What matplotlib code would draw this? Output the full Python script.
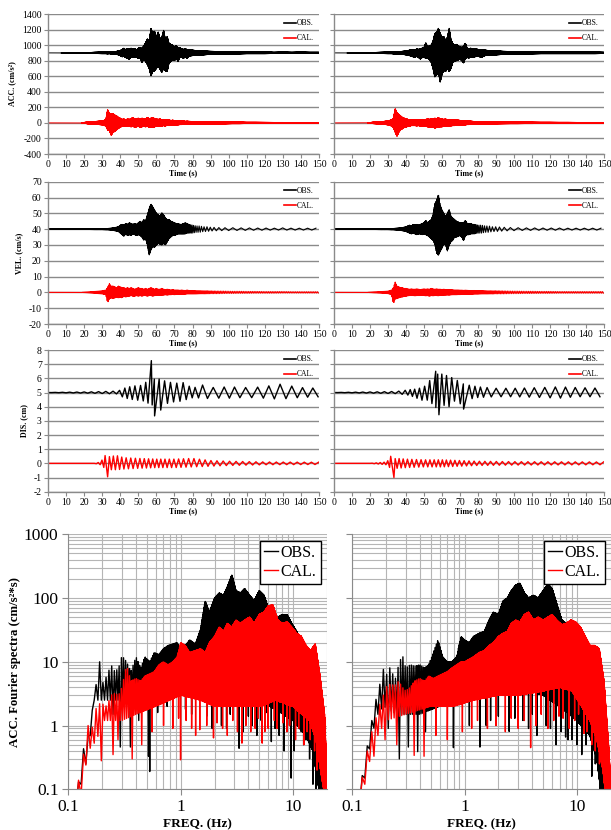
import numpy as np
import matplotlib
matplotlib.use("Agg")
import matplotlib.pyplot as plt
from matplotlib.lines import Line2D

plt.rcParams['font.family'] = ['Liberation Serif', 'DejaVu Serif']
plt.rcParams['axes.unicode_minus'] = False

# ---------------- time histories ----------------
# envelope knots (s) shared by the ACC and VEL records: upper / lower excursion about the baseline
env_t = [0, 10, 18, 22, 26, 30, 32, 33, 34, 35, 36, 37, 38, 39, 40, 41, 42, 43, 44, 45, 46, 47, 48, 49,
         50, 51, 52, 53, 54, 55, 56, 57, 58, 59, 60, 61, 62, 63, 64, 65, 66, 67, 68, 69, 70, 71, 72, 73,
         74, 75, 76, 77, 78, 80, 82, 84, 86, 88, 90, 94, 98, 102, 106, 110, 115, 120, 125, 130, 135, 140, 145, 150]

acc_l_obs_up = [0, 1, 2, 4, 8, 10, 10, 12, 10, 14, 12, 16, 20, 25, 30, 45, 60, 40, 55, 50, 60, 45, 55, 40,
                60, 70, 55, 90, 130, 180, 150, 316, 250, 280, 200, 270, 180, 200, 290, 170, 210, 120, 110, 100, 80, 90, 60, 70,
                50, 45, 55, 40, 45, 35, 30, 28, 25, 22, 20, 18, 15, 15, 12, 10, 10, 12, 8, 10, 8, 10, 8, 8]
acc_l_obs_dn = [0, 1, 2, 4, 8, 10, 10, 12, 10, 14, 12, 16, 20, 25, 35, 50, 45, 60, 70, 80, 55, 60, 50, 55,
                70, 60, 125, 80, 110, 150, 200, 295, 240, 230, 200, 170, 210, 250, 200, 230, 240, 130, 110, 90, 100, 70, 110, 60,
                55, 70, 50, 70, 40, 35, 30, 28, 25, 22, 20, 18, 15, 15, 12, 10, 10, 10, 8, 8, 8, 8, 8, 8]
acc_l_cal_up = [0, 0, 0, 12, 18, 25, 40, 170, 120, 110, 120, 100, 90, 70, 60, 45, 50, 40, 50, 45, 55, 70, 50, 55,
                60, 50, 60, 55, 50, 70, 55, 60, 70, 55, 50, 45, 50, 40, 45, 40, 35, 40, 30, 35, 30, 25, 28, 25,
                22, 25, 20, 22, 20, 18, 16, 15, 15, 14, 13, 12, 12, 10, 10, 8, 8, 7, 6, 6, 5, 5, 5, 5]
acc_l_cal_dn = [0, 0, 0, 12, 18, 25, 40, 90, 100, 160, 120, 110, 90, 70, 55, 45, 40, 45, 40, 45, 50, 45, 55, 50,
                45, 55, 50, 45, 50, 45, 55, 50, 60, 50, 45, 40, 45, 40, 35, 40, 30, 35, 30, 30, 28, 25, 25, 22,
                22, 20, 20, 20, 18, 18, 16, 15, 15, 14, 13, 12, 12, 10, 10, 8, 8, 7, 6, 6, 5, 5, 5, 5]

acc_r_obs_up = [0, 1, 3, 5, 8, 10, 10, 12, 12, 14, 15, 18, 20, 22, 25, 30, 35, 40, 45, 40, 50, 45, 55, 60,
                70, 130, 80, 90, 100, 150, 250, 260, 316, 250, 200, 210, 160, 200, 316, 170, 120, 100, 110, 90, 80, 70, 90, 124,
                60, 55, 60, 50, 55, 45, 40, 35, 30, 28, 25, 20, 18, 15, 12, 12, 10, 10, 12, 10, 10, 10, 10, 8]
acc_r_obs_dn = [0, 1, 3, 5, 8, 10, 10, 12, 12, 14, 15, 18, 20, 22, 25, 30, 35, 45, 50, 55, 45, 60, 80, 60,
                55, 70, 65, 90, 120, 200, 310, 280, 250, 376, 280, 220, 240, 200, 240, 200, 120, 110, 100, 90, 80, 100, 130, 70,
                60, 65, 55, 60, 50, 45, 56, 35, 30, 28, 25, 20, 18, 15, 12, 12, 10, 10, 10, 10, 10, 10, 10, 8]
acc_r_cal_up = [0, 0, 0, 10, 15, 25, 40, 60, 182, 130, 110, 90, 70, 60, 55, 45, 40, 35, 40, 35, 40, 35, 40, 45,
                40, 45, 50, 45, 55, 50, 60, 55, 65, 55, 50, 45, 50, 40, 45, 40, 38, 40, 35, 35, 32, 30, 28, 25,
                25, 22, 22, 20, 18, 15, 15, 14, 13, 12, 12, 11, 10, 10, 9, 9, 8, 8, 7, 7, 6, 6, 6, 6]
acc_r_cal_dn = [0, 0, 0, 10, 15, 25, 40, 60, 120, 172, 120, 90, 75, 60, 55, 45, 40, 35, 35, 35, 38, 35, 40, 40,
                42, 45, 50, 55, 60, 55, 65, 60, 55, 50, 50, 45, 45, 40, 40, 38, 35, 35, 32, 30, 30, 28, 25, 25,
                22, 22, 20, 20, 18, 15, 15, 14, 13, 12, 12, 11, 10, 10, 9, 9, 8, 8, 7, 7, 6, 6, 6, 6]

vel_l_obs_up = [0.1, 0.1, 0.15, 0.2, 0.3, 0.3, 0.4, 0.4, 0.5, 0.6, 0.8, 1.0, 1.2, 1.5, 2.5, 3, 2.5, 3.5, 3, 4, 3.5, 3, 3.5, 3,
                4, 5, 4, 6, 5, 9, 13, 15.9, 14, 12, 10, 9, 8, 10.4, 9, 7, 6, 6, 5, 4.5, 4, 3.5, 3.5, 3,
                3, 3.5, 4, 3.5, 3, 2.5, 2, 2, 1.5, 1.5, 1.2, 1.0, 0.9, 0.9, 0.8, 0.8, 0.7, 0.7, 0.6, 0.8, 0.6, 0.6, 0.6, 0.6]
vel_l_obs_dn = [0.1, 0.1, 0.15, 0.2, 0.3, 0.3, 0.4, 0.4, 0.5, 0.6, 0.8, 1.0, 1.2, 1.5, 2.5, 3.5, 4.5, 3, 4, 3.5, 4, 3, 3.5, 4,
                3.5, 4, 5, 7, 6, 10, 16.4, 13, 11, 11.5, 10, 9, 9.5, 10, 9, 10, 8, 6, 5, 4, 4, 3.5, 3, 3,
                3, 3, 3, 2.5, 2.5, 2.5, 2, 2, 1.5, 1.5, 1.2, 1.0, 0.9, 0.9, 0.8, 0.8, 0.7, 0.7, 0.6, 0.6, 0.6, 0.6, 0.6, 0.6]
vel_l_cal_up = [0, 0, 0, 0.3, 0.6, 1.0, 1.5, 3.5, 5.5, 4, 4, 3.5, 3, 4, 3.5, 3, 3, 2.5, 3, 2.5, 3, 2.5, 2, 2.5,
                3, 2.5, 2.5, 2, 2.5, 2, 2.5, 3, 2.5, 2, 2.5, 2, 2, 2.5, 2, 1.8, 2, 1.8, 1.5, 1.8, 1.5, 1.5, 1.5, 1.3,
                1.5, 1.3, 1.2, 1.5, 1.2, 1.2, 1.0, 1.0, 1.0, 1.0, 0.9, 0.8, 0.8, 0.7, 0.7, 0.6, 0.6, 0.5, 0.5, 0.5, 0.4, 0.4, 0.4, 0.4]
vel_l_cal_dn = [0, 0, 0, 0.3, 0.6, 1.0, 1.5, 6.5, 4, 3.5, 4, 3.5, 3, 3.5, 3, 3.5, 2.5, 3, 2.5, 2.5, 2, 2.5, 2.5, 2,
                2.5, 2, 2.5, 2, 2, 2.5, 2, 2, 2.5, 2, 2, 1.8, 2, 1.8, 1.8, 1.5, 1.8, 1.5, 1.5, 1.3, 1.5, 1.3, 1.3, 1.2,
                1.2, 1.2, 1.2, 1.0, 1.0, 1.0, 1.0, 0.9, 0.9, 0.9, 0.8, 0.8, 0.7, 0.7, 0.6, 0.6, 0.5, 0.5, 0.5, 0.4, 0.4, 0.4, 0.4, 0.4]

vel_r_obs_up = [0.1, 0.1, 0.15, 0.2, 0.3, 0.3, 0.4, 0.4, 0.5, 0.6, 0.7, 0.8, 1.0, 1.2, 1.5, 2, 2.5, 2, 3, 2.5, 3, 2.5, 3, 3.5,
                4, 5.5, 4, 5, 6, 9, 16, 18, 21.9, 15, 12, 10, 8, 10, 12.5, 8, 7, 6, 5, 4.5, 4, 4, 4, 5.5,
                3.5, 3.5, 3.5, 3, 3, 2.5, 2.5, 2, 2, 1.5, 1.5, 1.2, 1.0, 0.9, 0.8, 0.8, 0.7, 0.7, 0.7, 0.6, 0.6, 0.6, 0.6, 0.6]
vel_r_obs_dn = [0.1, 0.1, 0.15, 0.2, 0.3, 0.3, 0.4, 0.4, 0.5, 0.6, 0.7, 0.8, 1.0, 1.2, 1.5, 2, 2.5, 3, 2.5, 3, 3.5, 3, 3, 3.5,
                3, 3.5, 4, 5, 6, 7, 9.4, 15, 16.5, 14, 12, 9, 10, 13.8, 10, 8, 7, 5, 5, 4.5, 4, 5, 7.3, 4,
                3.5, 3.5, 3, 3, 3, 2.5, 2.5, 2, 2, 1.5, 1.5, 1.2, 1.0, 0.9, 0.8, 0.8, 0.7, 0.7, 0.7, 0.6, 0.6, 0.6, 0.6, 0.6]
vel_r_cal_up = [0, 0, 0, 0.3, 0.5, 0.8, 1.5, 3, 6.5, 4, 3.5, 3, 3, 2.5, 2.5, 2.2, 2, 2.2, 2, 2, 2.2, 2, 1.8, 2,
                2.2, 2, 2.2, 2, 2.5, 2.2, 2, 2.2, 2, 2, 1.8, 2, 1.8, 1.8, 1.7, 1.8, 1.6, 1.5, 1.5, 1.5, 1.4, 1.4, 1.3, 1.4,
                1.3, 1.2, 1.2, 1.2, 1.2, 1.1, 1.1, 1.0, 1.0, 1.0, 1.0, 0.9, 0.8, 0.8, 0.7, 0.7, 0.6, 0.6, 0.5, 0.5, 0.5, 0.5, 0.5, 0.5]
vel_r_cal_dn = [0, 0, 0, 0.3, 0.5, 0.8, 1.5, 7.2, 4, 4, 3.5, 3, 3, 2.5, 2.5, 2.2, 2, 2, 2, 2.2, 2, 2, 2, 1.8,
                2, 2.2, 2, 2.5, 2, 2.2, 2, 2, 2.2, 1.8, 2, 1.8, 1.8, 1.7, 1.8, 1.6, 1.5, 1.5, 1.5, 1.4, 1.4, 1.3, 1.3, 1.3,
                1.2, 1.2, 1.2, 1.2, 1.1, 1.1, 1.0, 1.0, 1.0, 1.0, 0.9, 0.9, 0.8, 0.8, 0.7, 0.7, 0.6, 0.6, 0.5, 0.5, 0.5, 0.5, 0.5, 0.5]

# displacement envelopes plus a few marked extremes (time, value)
dis_l_obs_t = [0, 25, 32, 38, 41, 43, 47, 50, 53, 54.5, 58, 60, 63, 65, 70, 75, 78, 82, 86, 90, 100, 110, 120, 125, 130, 135, 140, 150]
dis_l_obs_up = [0, 0.05, 0.08, 0.1, 0.2, 0.35, 0.45, 0.5, 0.5, 0.8, 0.9, 1.0, 0.9, 0.8, 0.65, 0.7, 0.45, 0.35, 0.55, 0.35, 0.4, 0.35, 0.4, 0.55, 0.6, 0.45, 0.35, 0.3]
dis_l_obs_dn = [0, 0.05, 0.08, 0.1, 0.3, 0.4, 0.5, 0.55, 0.6, 0.7, 0.9, 1.0, 0.9, 0.8, 0.65, 0.6, 0.4, 0.35, 0.45, 0.4, 0.4, 0.35, 0.4, 0.45, 0.45, 0.4, 0.35, 0.3]
dis_l_obs_pins = [(57.2, 7.25), (59.0, 3.35), (62.4, 3.76)]
dis_l_cal_t = [0, 26, 29, 31, 35, 38, 42, 50, 60, 70, 80, 90, 100, 120, 150]
dis_l_cal_up = [0, 0, 0.1, 0.4, 0.5, 0.55, 0.4, 0.35, 0.3, 0.3, 0.35, 0.2, 0.15, 0.1, 0.08]
dis_l_cal_dn = [0, 0, 0.1, 0.3, 0.45, 0.45, 0.4, 0.35, 0.3, 0.3, 0.25, 0.2, 0.15, 0.1, 0.08]
dis_l_cal_pins = [(31.6, 0.55), (33.0, -0.95)]

dis_r_obs_t = [0, 25, 35, 42, 46, 50, 53, 55, 58, 61, 64, 67, 70, 73, 76, 80, 90, 100, 115, 125, 135, 150]
dis_r_obs_up = [0, 0.05, 0.08, 0.2, 0.25, 0.4, 0.8, 1.3, 1.3, 1.3, 1.1, 1.0, 0.7, 0.55, 0.5, 0.4, 0.3, 0.3, 0.35, 0.4, 0.35, 0.3]
dis_r_obs_dn = [0, 0.05, 0.08, 0.2, 0.4, 0.6, 0.5, 0.9, 1.2, 0.9, 1.0, 0.6, 0.8, 0.7, 0.45, 0.35, 0.3, 0.3, 0.35, 0.4, 0.3, 0.3]
dis_r_obs_pins = [(56.5, 6.5), (58.3, 3.43), (72.0, 3.83)]
dis_r_cal_t = [0, 20, 25, 29, 31, 35, 40, 50, 60, 80, 100, 150]
dis_r_cal_up = [0, 0, 0.05, 0.1, 0.3, 0.35, 0.3, 0.25, 0.25, 0.15, 0.12, 0.1]
dis_r_cal_dn = [0, 0, 0.05, 0.1, 0.3, 0.35, 0.3, 0.25, 0.25, 0.15, 0.12, 0.1]
dis_r_cal_pins = [(31.5, 0.5), (33.3, -1.0)]

# spacing between successive peaks and troughs (s)
acc_hp_t, acc_hp = [0, 150], [0.04, 0.04]
vel_obs_hp_t, vel_obs_hp = [0, 75, 90, 100, 150], [0.12, 0.12, 1.0, 2.3, 2.3]
vel_cal_hp_t, vel_cal_hp = [0, 80, 100, 150], [0.25, 0.25, 0.5, 0.5]
dis_l_obs_hp_t = [0, 35, 42, 50, 56, 62, 70, 80, 88, 100, 110, 120, 130, 140, 150]
dis_l_obs_hp = [2.0, 2.0, 1.3, 1.6, 1.1, 1.5, 1.8, 1.6, 3.2, 2.8, 3.4, 3.0, 3.3, 2.8, 3.0]
dis_r_obs_hp_t = [0, 35, 42, 50, 56, 62, 70, 80, 88, 100, 115, 130, 150]
dis_r_obs_hp = [2.0, 2.0, 1.2, 1.5, 1.0, 1.4, 1.7, 1.5, 2.8, 2.5, 3.0, 2.7, 2.8]
dis_cal_hp_t, dis_cal_hp = [0, 30, 45, 60, 80, 100, 150], [1.5, 1.0, 1.3, 1.1, 1.5, 1.8, 2.0]

# ---------------- Fourier spectra ----------------
spec_f = [0.11, 0.12, 0.13, 0.14, 0.15, 0.16, 0.17, 0.18, 0.19, 0.2, 0.22, 0.24, 0.26, 0.28, 0.3, 0.33, 0.36, 0.4, 0.44, 0.48,
          0.53, 0.58, 0.64, 0.7, 0.77, 0.85, 0.93, 1.0, 1.1, 1.2, 1.35, 1.5, 1.65, 1.8, 2.0, 2.2, 2.4, 2.6, 2.85, 3.1,
          3.4, 3.7, 4.1, 4.5, 5.0, 5.5, 6.0, 6.6, 7.3, 8.0, 8.8, 9.7, 10.7, 11.8, 13.0, 14.3, 15.7, 17.3, 19.0, 20.0]
spl_obs_hi = [0.05, 0.1, 0.22, 0.6, 0.7, 1.1, 4.2, 4.5, 10, 4.5, 6, 9, 7, 8, 12.5, 10, 7, 12, 8, 12,
              10, 14, 13, 16, 18, 19, 20, 15, 18, 22, 19, 32, 90, 60, 100, 120, 110, 150, 230, 130,
              120, 140, 110, 90, 130, 110, 70, 60, 50, 55, 55, 40, 30, 20, 15, 10, 8, 2, 0.3, 0.1]
spl_cal_hi = [0.05, 0.15, 0.12, 0.6, 1.0, 0.8, 1.3, 2.2, 2.2, 2.2, 2.0, 3.0, 3.2, 3.0, 4, 9, 5, 5.5, 5, 6,
              6.5, 7, 9, 10, 9, 10, 12, 20, 18, 14, 15, 16, 14, 20, 25, 35, 30, 40, 35, 45,
              40, 45, 50, 40, 55, 60, 75, 78, 45, 40, 42, 35, 28, 25, 18, 15, 19, 6, 1.5, 0.15]
spr_obs_hi = [0.05, 0.12, 0.3, 0.6, 1.2, 2.2, 3.5, 5, 7.6, 6, 8.5, 5, 9, 13, 8, 9, 8.5, 9, 8, 9,
              14, 22, 12, 10, 10, 12, 25, 22, 20, 25, 28, 30, 45, 60, 55, 90, 100, 130, 160, 170,
              120, 100, 110, 100, 130, 165, 140, 80, 45, 40, 40, 40, 30, 25, 15, 12, 8, 0.5, 0.08, 0.05]
spr_cal_hi = [0.05, 0.12, 0.25, 0.5, 0.8, 1.2, 1.6, 2.5, 3, 4, 4.5, 4.2, 5, 4, 3.5, 4, 5, 5.5, 5, 6,
              5.5, 6, 6.5, 7, 8, 9, 10, 10, 11, 12, 14, 15, 18, 20, 25, 28, 30, 40, 45, 42,
              55, 60, 45, 50, 45, 50, 55, 45, 38, 40, 45, 42, 35, 25, 18, 18, 16, 5, 0.5, 0.1]

spl_obs_lo_f = [0.11, 0.13, 0.15, 0.17, 0.19, 0.22, 0.3, 0.5, 0.7, 1.0, 1.5, 1.7, 2.0, 3.0, 5.0, 7.0, 10, 13, 15, 17, 20]
spl_obs_lo = [0.03, 0.12, 0.35, 2.5, 2.5, 2.5, 2.5, 2.5, 3.5, 4, 5, 8, 4, 3, 2.5, 1.8, 1.2, 0.7, 0.4, 0.1, 0.02]
spl_cal_lo_f = [0.11, 0.13, 0.15, 0.18, 0.2, 0.25, 0.3, 0.4, 0.6, 0.8, 1.0, 1.5, 2, 3, 5, 7, 10, 12, 14, 16, 18, 20]
spl_cal_lo = [0.03, 0.08, 0.4, 0.6, 1.2, 1.2, 1.2, 1.5, 2, 2.5, 3, 2.5, 2, 2, 2, 2.5, 2, 1.5, 1.2, 0.6, 0.15, 0.05]
spr_obs_lo_f = [0.11, 0.13, 0.15, 0.17, 0.19, 0.25, 0.4, 0.6, 1.0, 1.5, 2, 3, 5, 7, 10, 13, 15, 17, 20]
spr_obs_lo = [0.03, 0.15, 0.7, 1.5, 2, 1.5, 1.5, 2, 3, 3, 4, 4, 3, 2, 1.2, 0.7, 0.3, 0.05, 0.02]
spr_cal_lo_f = [0.11, 0.13, 0.15, 0.17, 0.2, 0.3, 0.5, 0.8, 1.2, 2, 3, 5, 7, 9, 11, 13, 15, 17, 18.5, 20]
spr_cal_lo = [0.03, 0.12, 0.4, 0.7, 1.2, 1.5, 2, 2, 2.5, 3, 3, 3.5, 4, 3.5, 2, 1.2, 0.6, 0.2, 0.05, 0.02]

# deep notches (Hz, amplitude)
spl_obs_dips = [(0.25, 1.5), (0.288, 0.46), (0.353, 0.46), (0.42, 1.2), (0.515, 0.33), (0.53, 0.19), (0.62, 1.6),
                (0.75, 2.0), (1.1, 1.8), (1.25, 1.5), (1.7, 1.4), (1.9, 0.9), (2.3, 1.0), (2.55, 0.9), (2.75, 1.5),
                (3.3, 0.44), (3.6, 0.8), (4.0, 1.4), (4.3, 1.0), (4.75, 0.7), (5.2, 1.2), (5.8, 1.6), (6.4, 0.56),
                (6.9, 0.9), (7.5, 0.7), (8.3, 0.4), (8.9, 1.0), (9.6, 0.15), (10.2, 0.4), (11.8, 0.8), (12.4, 0.5),
                (13.0, 0.6), (14.0, 0.3), (15.0, 0.12), (16.0, 0.1)]
spl_cal_dips = [(0.191, 0.28), (0.25, 0.35), (0.28, 0.6), (0.365, 0.3), (0.45, 0.5), (0.55, 0.8), (0.7, 1.0),
                (0.85, 0.9), (0.95, 1.3), (1.0, 0.29), (1.12, 1.2), (1.25, 0.9), (1.35, 0.7), (1.48, 0.86),
                (1.7, 1.0), (1.95, 0.64), (2.1, 1.1), (2.35, 0.9), (2.6, 0.7), (2.9, 1.2), (3.2, 0.8), (3.5, 0.53),
                (3.8, 1.0), (4.2, 0.8), (4.6, 0.9), (4.9, 1.3), (5.3, 0.53), (5.6, 0.8), (6.0, 0.9), (6.8, 1.2),
                (7.2, 0.9), (8.1, 1.1), (8.8, 0.8), (9.3, 1.0), (10.5, 0.6), (11.2, 0.9), (12.5, 0.5), (13.3, 0.8),
                (14.2, 0.6), (15.5, 0.4), (16.3, 0.2)]
spr_obs_dips = [(0.21, 0.9), (0.256, 0.3), (0.308, 0.46), (0.378, 0.39), (0.45, 0.8), (0.79, 0.45), (1.1, 1.0),
                (1.37, 0.46), (1.55, 1.0), (1.7, 1.2), (2.0, 1.4), (2.49, 0.81), (2.8, 1.3), (3.3, 1.2), (3.7, 0.9),
                (4.0, 1.5), (4.4, 0.7), (5.3, 1.0), (5.8, 0.9), (6.5, 0.5), (7.2, 0.8), (7.9, 0.66), (8.3, 0.6),
                (9.0, 0.6), (10.0, 0.5), (11.0, 0.35), (12.0, 0.5), (13.5, 0.16), (14.5, 0.25), (16.0, 0.08)]
spr_cal_dips = [(0.15, 0.33), (0.19, 0.6), (0.25, 0.5), (0.36, 0.34), (0.427, 0.33), (0.55, 0.7), (0.7, 0.6),
                (0.95, 0.8), (1.15, 0.9), (1.3, 1.2), (1.6, 0.9), (1.9, 1.0), (2.3, 0.8), (2.6, 1.3), (3.0, 0.9),
                (3.4, 1.2), (3.86, 0.45), (4.3, 1.0), (4.8, 1.5), (5.5, 0.9), (6.2, 1.2), (6.9, 1.4), (7.5, 1.3),
                (8.5, 0.9), (9.5, 1.2), (10.3, 1.5), (11.5, 0.75), (12.2, 0.8), (13.5, 0.5), (14.5, 0.4), (15.8, 0.25)]


def trace(kt, up, dn, hp_t, hp, base, pins=()):
    # alternate peaks and troughs that follow the envelope knots
    ts, vs = [], []
    t, k = 0.0, 0
    while t <= 150:
        if k % 2 == 0:
            vs.append(base + np.interp(t, kt, up))
        else:
            vs.append(base - np.interp(t, kt, dn))
        ts.append(t)
        t += np.interp(t, hp_t, hp)
        k += 1
    ts, vs = np.array(ts), np.array(vs)
    for tp, vp in pins:
        idx = np.where(vs > base)[0] if vp > base else np.where(vs < base)[0]
        i = idx[np.argmin(np.abs(ts[idx] - tp))]
        ts[i], vs[i] = tp, vp
    o = np.argsort(ts)
    return ts[o], vs[o]


def spectrum(fk, hi, fl, lo, dips):
    f = np.arange(0.11, 20.0, 1 / 150)
    lf = np.log10(f)
    h = 10 ** np.interp(lf, np.log10(fk), np.log10(hi))
    l = 10 ** np.interp(lf, np.log10(fl), np.log10(lo))
    s = np.where(np.arange(f.size) % 2 == 0, h, l)
    for fd, vd in dips:
        i = int(np.argmin(np.abs(f - fd)))
        if i % 2 == 0:
            i += 1
        s[i] = vd
    return f, s


W, H = 611, 830
fig = plt.figure(figsize=(W / 100, H / 100), dpi=100)


def box(x0, y0, x1, y1):
    return [x0 / W, 1 - y1 / H, (x1 - x0) / W, (y1 - y0) / H]


GRAY = '#8a8a8a'


def style_ts(ax, lo, hi, step, ylabel=None):
    ax.set_xlim(0, 150)
    ax.set_ylim(lo, hi)
    ax.set_xticks(np.arange(0, 151, 10))
    ax.set_yticks(np.arange(lo, hi + step / 2, step))
    ax.grid(axis='y', color=GRAY, lw=1.0)
    ax.set_axisbelow(True)
    for s in ['top', 'right']:
        ax.spines[s].set_visible(False)
    for s in ['left', 'bottom']:
        ax.spines[s].set_color(GRAY)
        ax.spines[s].set_linewidth(1.0)
    ax.tick_params(length=3, width=0.8, color=GRAY, labelsize=7, pad=1.5)
    ax.set_xlabel('Time (s)', fontsize=5.8, fontweight='bold', labelpad=0)
    if ylabel:
        ax.set_ylabel(ylabel, fontsize=5.8, fontweight='bold', labelpad=4)
    else:
        ax.tick_params(labelleft=False)
    ax.legend(handles=[Line2D([], [], color='black', lw=1.2, label='OBS.'),
                       Line2D([], [], color='red', lw=1.2, label='CAL.')],
              loc='upper right', frameon=False, fontsize=5.5, handlelength=1.5,
              handletextpad=0.1, labelspacing=0.9, borderaxespad=0.3)


rows = [
    (14, 154, -400, 1400, 200, 'ACC. (cm/s²)', 900, 0,
     [(env_t, acc_l_obs_up, acc_l_obs_dn, acc_hp_t, acc_hp, ()),
      (env_t, acc_l_cal_up, acc_l_cal_dn, acc_hp_t, acc_hp, ())],
     [(env_t, acc_r_obs_up, acc_r_obs_dn, acc_hp_t, acc_hp, ()),
      (env_t, acc_r_cal_up, acc_r_cal_dn, acc_hp_t, acc_hp, ())], 0.7),
    (181.7, 324, -20, 70, 10, 'VEL. (cm/s)', 40, 0,
     [(env_t, vel_l_obs_up, vel_l_obs_dn, vel_obs_hp_t, vel_obs_hp, ()),
      (env_t, vel_l_cal_up, vel_l_cal_dn, vel_cal_hp_t, vel_cal_hp, ())],
     [(env_t, vel_r_obs_up, vel_r_obs_dn, vel_obs_hp_t, vel_obs_hp, ()),
      (env_t, vel_r_cal_up, vel_r_cal_dn, vel_cal_hp_t, vel_cal_hp, ())], 0.8),
    (350, 491.7, -2, 8, 1, 'DIS. (cm)', 5, 0,
     [(dis_l_obs_t, dis_l_obs_up, dis_l_obs_dn, dis_l_obs_hp_t, dis_l_obs_hp, dis_l_obs_pins),
      (dis_l_cal_t, dis_l_cal_up, dis_l_cal_dn, dis_cal_hp_t, dis_cal_hp, dis_l_cal_pins)],
     [(dis_r_obs_t, dis_r_obs_up, dis_r_obs_dn, dis_r_obs_hp_t, dis_r_obs_hp, dis_r_obs_pins),
      (dis_r_cal_t, dis_r_cal_up, dis_r_cal_dn, dis_cal_hp_t, dis_cal_hp, dis_r_cal_pins)], 1.0),
]

for top, bot, lo, hi, step, ylab, base_obs, base_cal, left, right, lw in rows:
    for (x0, x1), series, lab in [((48, 319), left, ylab), ((334, 604), right, None)]:
        ax = fig.add_axes(box(x0, top, x1, bot))
        for (kt, up, dn, hpt, hp, pins), base, col in zip(series, [base_obs, base_cal], ['black', 'red']):
            t, v = trace(kt, up, dn, hpt, hp, base, pins)
            ax.plot(t, v, color=col, lw=lw)
        style_ts(ax, lo, hi, step, lab)

# spectra
spec_panels = [
    ((68.3, 327), [(spl_obs_hi, spl_obs_lo_f, spl_obs_lo, spl_obs_dips),
                   (spl_cal_hi, spl_cal_lo_f, spl_cal_lo, spl_cal_dips)], True),
    ((352, 611), [(spr_obs_hi, spr_obs_lo_f, spr_obs_lo, spr_obs_dips),
                  (spr_cal_hi, spr_cal_lo_f, spr_cal_lo, spr_cal_dips)], False),
]
for (x0, x1), series, first in spec_panels:
    ax = fig.add_axes(box(x0, 534.3, x1, 789.3))
    for (hi, fl, lo, dips), col, lab in zip(series, ['black', 'red'], ['OBS.', 'CAL.']):
        f, s = spectrum(spec_f, hi, fl, lo, dips)
        ax.plot(f, s, color=col, lw=1.0, label=lab)
    ax.set_xscale('log')
    ax.set_yscale('log')
    ax.set_xlim(0.1, 20)
    ax.set_ylim(0.1, 1000)
    ax.grid(which='both', color='#b5b5b5', lw=0.8)
    ax.set_axisbelow(True)
    for s in ['top', 'right']:
        ax.spines[s].set_visible(False)
    for s in ['left', 'bottom']:
        ax.spines[s].set_color(GRAY)
    ax.set_xticks([0.1, 1, 10])
    ax.set_xticklabels(['0.1', '1', '10'])
    ax.set_yticks([0.1, 1, 10, 100, 1000])
    ax.set_yticklabels(['0.1', '1', '10', '100', '1000'])
    ax.tick_params(which='major', length=4, color=GRAY, labelsize=12.5, pad=3)
    ax.tick_params(which='minor', length=0)
    ax.set_xlabel('FREQ. (Hz)', fontsize=9.5, fontweight='bold', labelpad=2)
    if first:
        ax.set_ylabel('ACC. Fourier spectra (cm/s²*s)', fontsize=9.2, fontweight='bold', labelpad=2)
    else:
        ax.tick_params(labelleft=False)
    leg = ax.legend(loc='upper right', fontsize=11.5, fancybox=False, framealpha=1,
                    edgecolor='black', borderpad=0.25, handlelength=0.9,
                    handletextpad=0.15, labelspacing=0.2, borderaxespad=0.4)
    leg.get_frame().set_linewidth(1.0)

fig.savefig('out.png', dpi=100)
